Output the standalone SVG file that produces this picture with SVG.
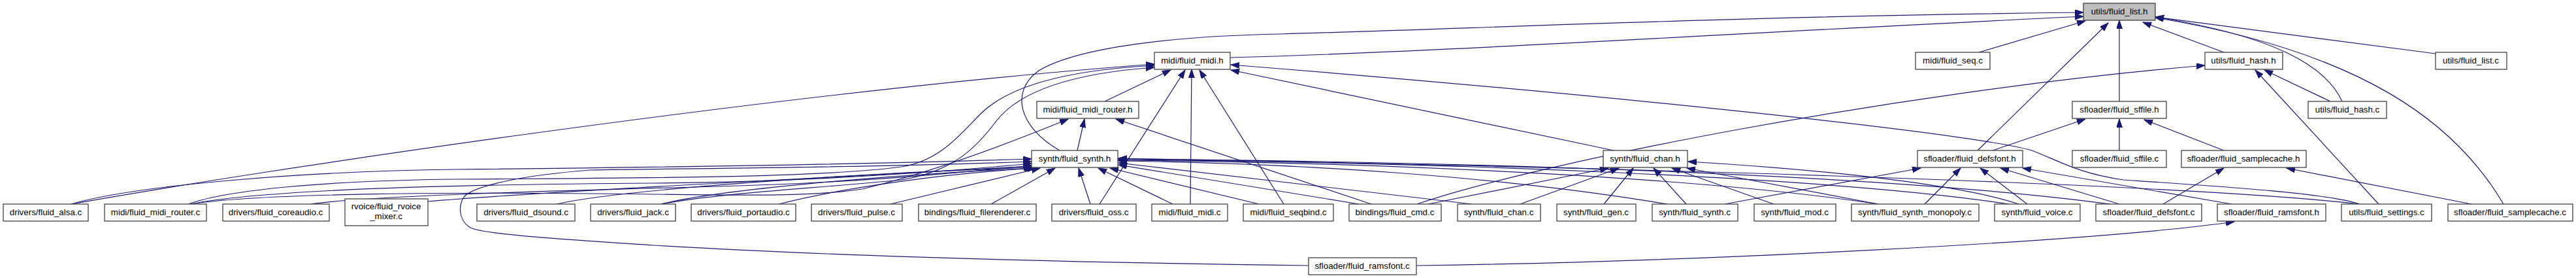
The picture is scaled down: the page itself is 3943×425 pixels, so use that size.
<svg xmlns="http://www.w3.org/2000/svg" width="3943" height="425" viewBox="0 0 3943 425">
<style>
.n rect{fill:#fff;stroke:#404040;stroke-width:1.3}
.n.root rect{fill:#bfbfbf}
.n text{font-family:"Liberation Sans",Arial,Helvetica,sans-serif;font-size:13.33px;text-anchor:middle;fill:#000}
.e path{fill:none;stroke:#191970;stroke-width:1.2;marker-end:url(#a)}
</style>
<defs>
<marker id="a" markerUnits="userSpaceOnUse" markerWidth="14" markerHeight="10" refX="13" refY="4.5" orient="auto">
<path d="M0,0 L13,4.5 L0,9 z" fill="#191970" stroke="#191970" stroke-width="1"/>
</marker>
</defs>
<rect width="3943" height="425" fill="#fff"/>
<g id="edges" class="e">
<path d="M1622,230 C1560,195 1545,140 1590,108 C1650,72 1800,55 1960,52 C2300,42 2700,24 3189,19"/>
<path d="M1883,88 C2200,80 2700,48 3189,25"/>
<path d="M3029,80 L3192,32"/>
<path d="M3027,230 L3227,35"/>
<path d="M3244,155 L3244,31"/>
<path d="M3404,80 L3280,34"/>
<path d="M3585,155 C3560,100 3480,55 3299,26"/>
<path d="M3832,312 C3760,190 3620,80 3299,27"/>
<path d="M3728,82 L3299,26"/>
<path d="M109,312 C400,260 1200,140 1767,98"/>
<path d="M288,312 C350,290 500,276 700,274 C1000,272 1250,272 1380,255 C1440,245 1470,205 1500,175 C1540,135 1620,108 1767,100"/>
<path d="M1012,312 C1100,295 1250,288 1380,275 C1460,262 1495,225 1525,185 C1560,140 1640,112 1767,103"/>
<path d="M1691,155 L1792,107"/>
<path d="M1683,312 L1814,107"/>
<path d="M1822,312 L1824,106"/>
<path d="M1965,312 L1836,107"/>
<path d="M3612,312 C3560,295 3400,285 3250,275 C3180,265 3150,245 3110,230 C3000,200 2400,140 1884,99"/>
<path d="M2470,230 L1884,107"/>
<path d="M292,312 C400,295 700,293 1000,297 C1150,299 1250,300 1320,289 C1420,265 1530,225 1635,182"/>
<path d="M1649,230 L1660,182"/>
<path d="M2099,312 L1708,182"/>
<path d="M109,312 C200,285 450,262 700,259 C1000,256 1300,252 1579,243"/>
<path d="M292,312 C400,290 700,282 1000,280 C1250,278 1450,262 1579,250"/>
<path d="M476,312 C560,300 800,293 1100,285 C1350,278 1480,262 1580,253"/>
<path d="M655,308 C800,295 1200,275 1580,254"/>
<path d="M852,312 C950,290 1300,265 1580,256"/>
<path d="M1012,312 C1100,290 1350,268 1582,257"/>
<path d="M1192,312 C1300,285 1450,265 1586,257"/>
<path d="M1363,312 L1592,257"/>
<path d="M1517,312 L1615,257"/>
<path d="M1669,312 L1651,257"/>
<path d="M1795,312 L1681,257"/>
<path d="M1927,312 L1699,257"/>
<path d="M2080,312 L1712,252"/>
<path d="M2253,312 L1712,249"/>
<path d="M2552,312 C2300,270 2000,250 1712,246"/>
<path d="M2874,312 C2600,270 2100,248 1712,245"/>
<path d="M3075,312 C2800,270 2200,248 1712,244"/>
<path d="M3230,312 C2900,268 2300,248 1712,243"/>
<path d="M3612,312 C3400,288 2800,262 1712,242"/>
<path d="M2003,406 C1700,402 1300,393 1000,375 C850,365 740,358 720,348 C700,336 700,306 716,296 C740,282 800,268 903,260 C1071,257 1310,257 1579,247"/>
<path d="M2186,312 L2462,257"/>
<path d="M2327,312 L2478,257"/>
<path d="M2455,312 L2500,257"/>
<path d="M2581,312 L2531,257"/>
<path d="M2715,312 L2559,257"/>
<path d="M2875,312 L2582,257"/>
<path d="M3090,312 C3000,282 2800,260 2584,247"/>
<path d="M3050,230 L3192,182"/>
<path d="M3244,230 L3244,182"/>
<path d="M3404,230 L3282,183"/>
<path d="M3311,312 L3404,257"/>
<path d="M3783,312 L3500,257"/>
<path d="M2640,312 L2940,257"/>
<path d="M2946,312 L3001,257"/>
<path d="M3103,312 L3031,257"/>
<path d="M3244,312 L3062,257"/>
<path d="M3416,312 L3096,257"/>
<path d="M2169,312 C2350,250 2900,140 3375,100"/>
<path d="M3641,312 L3452,107"/>
<path d="M3567,155 L3466,107"/>
<path d="M2168,406 C2600,400 3200,370 3420,339"/>
</g>
<g id="n_list_h" class="n root"><rect x="3189" y="5" width="110" height="26"/><text x="3244" y="22">utils/fluid_list.h</text></g>
<g id="n_midi_h" class="n"><rect x="1767" y="80" width="116" height="26"/><text x="1825" y="97">midi/fluid_midi.h</text></g>
<g id="n_seq_c" class="n"><rect x="2932" y="80" width="114" height="26"/><text x="2989" y="97">midi/fluid_seq.c</text></g>
<g id="n_hash_h" class="n"><rect x="3375" y="80" width="119" height="26"/><text x="3434" y="97">utils/fluid_hash.h</text></g>
<g id="n_list_c" class="n"><rect x="3728" y="80" width="109" height="26"/><text x="3782" y="97">utils/fluid_list.c</text></g>
<g id="n_router_h" class="n"><rect x="1587" y="155" width="156" height="26"/><text x="1665" y="172">midi/fluid_midi_router.h</text></g>
<g id="n_sffile_h" class="n"><rect x="3172" y="155" width="144" height="26"/><text x="3244" y="172">sfloader/fluid_sffile.h</text></g>
<g id="n_hash_c" class="n"><rect x="3533" y="155" width="120" height="26"/><text x="3593" y="172">utils/fluid_hash.c</text></g>
<g id="n_synth_h" class="n"><rect x="1579" y="230" width="132" height="26"/><text x="1645" y="247">synth/fluid_synth.h</text></g>
<g id="n_chan_h" class="n"><rect x="2454" y="230" width="129" height="26"/><text x="2518" y="247">synth/fluid_chan.h</text></g>
<g id="n_defsfont_h" class="n"><rect x="2935" y="230" width="161" height="26"/><text x="3015" y="247">sfloader/fluid_defsfont.h</text></g>
<g id="n_sffile_c" class="n"><rect x="3172" y="230" width="144" height="26"/><text x="3244" y="247">sfloader/fluid_sffile.c</text></g>
<g id="n_samplecache_h" class="n"><rect x="3339" y="230" width="191" height="26"/><text x="3434" y="247">sfloader/fluid_samplecache.h</text></g>
<g id="n_alsa_c" class="n"><rect x="5" y="312" width="130" height="26"/><text x="70" y="329">drivers/fluid_alsa.c</text></g>
<g id="n_router_c" class="n"><rect x="160" y="312" width="156" height="26"/><text x="238" y="329">midi/fluid_midi_router.c</text></g>
<g id="n_coreaudio_c" class="n"><rect x="341" y="312" width="163" height="26"/><text x="422" y="329">drivers/fluid_coreaudio.c</text></g>
<g id="n_rvoice_mixer_c" class="n"><rect x="528" y="304" width="127" height="41"/><text x="591" y="320">rvoice/fluid_rvoice</text><text x="591" y="335">_mixer.c</text></g>
<g id="n_dsound_c" class="n"><rect x="730" y="312" width="150" height="26"/><text x="805" y="329">drivers/fluid_dsound.c</text></g>
<g id="n_jack_c" class="n"><rect x="904" y="312" width="130" height="26"/><text x="969" y="329">drivers/fluid_jack.c</text></g>
<g id="n_portaudio_c" class="n"><rect x="1058" y="312" width="160" height="26"/><text x="1138" y="329">drivers/fluid_portaudio.c</text></g>
<g id="n_pulse_c" class="n"><rect x="1242" y="312" width="139" height="26"/><text x="1311" y="329">drivers/fluid_pulse.c</text></g>
<g id="n_filerenderer_c" class="n"><rect x="1406" y="312" width="180" height="26"/><text x="1496" y="329">bindings/fluid_filerenderer.c</text></g>
<g id="n_oss_c" class="n"><rect x="1610" y="312" width="129" height="26"/><text x="1674" y="329">drivers/fluid_oss.c</text></g>
<g id="n_midi_c" class="n"><rect x="1763" y="312" width="116" height="26"/><text x="1821" y="329">midi/fluid_midi.c</text></g>
<g id="n_seqbind_c" class="n"><rect x="1903" y="312" width="138" height="26"/><text x="1972" y="329">midi/fluid_seqbind.c</text></g>
<g id="n_cmd_c" class="n"><rect x="2065" y="312" width="141" height="26"/><text x="2135" y="329">bindings/fluid_cmd.c</text></g>
<g id="n_chan_c" class="n"><rect x="2231" y="312" width="127" height="26"/><text x="2294" y="329">synth/fluid_chan.c</text></g>
<g id="n_gen_c" class="n"><rect x="2383" y="312" width="121" height="26"/><text x="2443" y="329">synth/fluid_gen.c</text></g>
<g id="n_synth_c" class="n"><rect x="2529" y="312" width="131" height="26"/><text x="2594" y="329">synth/fluid_synth.c</text></g>
<g id="n_mod_c" class="n"><rect x="2685" y="312" width="125" height="26"/><text x="2747" y="329">synth/fluid_mod.c</text></g>
<g id="n_monopoly_c" class="n"><rect x="2834" y="312" width="195" height="26"/><text x="2931" y="329">synth/fluid_synth_monopoly.c</text></g>
<g id="n_voice_c" class="n"><rect x="3053" y="312" width="131" height="26"/><text x="3118" y="329">synth/fluid_voice.c</text></g>
<g id="n_defsfont_c" class="n"><rect x="3208" y="312" width="162" height="26"/><text x="3289" y="329">sfloader/fluid_defsfont.c</text></g>
<g id="n_ramsfont_h" class="n"><rect x="3394" y="312" width="166" height="26"/><text x="3477" y="329">sfloader/fluid_ramsfont.h</text></g>
<g id="n_settings_c" class="n"><rect x="3584" y="312" width="138" height="26"/><text x="3653" y="329">utils/fluid_settings.c</text></g>
<g id="n_samplecache_c" class="n"><rect x="3747" y="312" width="191" height="26"/><text x="3842" y="329">sfloader/fluid_samplecache.c</text></g>
<g id="n_ramsfont_c" class="n"><rect x="2003" y="394" width="165" height="26"/><text x="2085" y="411">sfloader/fluid_ramsfont.c</text></g>
</svg>
